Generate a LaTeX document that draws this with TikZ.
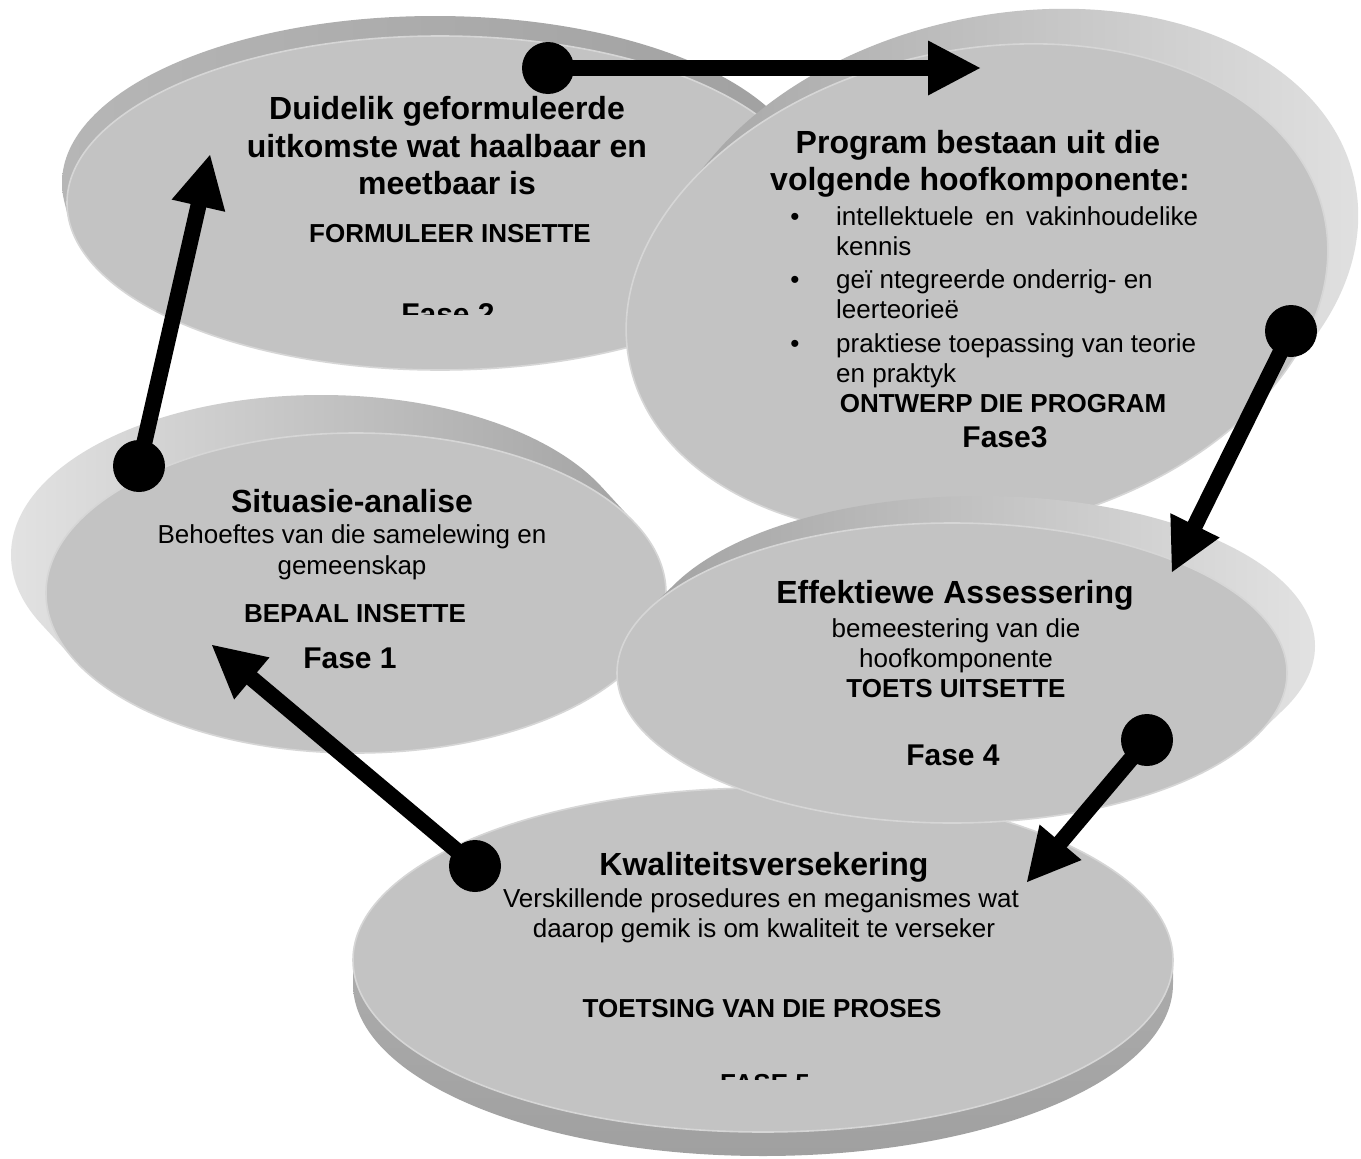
\documentclass[tikz,border=0pt]{standalone}
\usepackage{fontspec}
\setmainfont{Liberation Sans}
\usetikzlibrary{calc}
\definecolor{facegray}{RGB}{195,195,195}
\definecolor{faceedge}{RGB}{214,214,214}
\definecolor{rimdark}{RGB}{160,160,160}
\definecolor{rimmid}{RGB}{182,182,182}
\definecolor{rimlight}{RGB}{226,226,226}
\tikzset{
  face/.style={fill=facegray, draw=faceedge, line width=1.6pt},
  hd/.style={font=\fontsize{32}{37}\selectfont\bfseries, anchor=base, inner sep=0pt},
  sub/.style={font=\fontsize{26}{30}\selectfont, anchor=base, inner sep=0pt},
  subl/.style={font=\fontsize{26}{30}\selectfont, anchor=base west, inner sep=0pt},
  caps/.style={font=\fontsize{26}{30}\selectfont\bfseries, anchor=base, inner sep=0pt},
  fase/.style={font=\fontsize{30}{34}\selectfont\bfseries, anchor=base, inner sep=0pt},
  dot/.style={circle, fill=black, minimum size=52pt, inner sep=0pt},
  conn/.style={line width=16pt, draw=black, shorten >=50pt},
  head/.style={fill=black},
}
\begin{document}
\begin{tikzpicture}[x=1pt, y=-1pt]
\useasboundingbox (0,0) rectangle (1361,1159);
\fill[white] (0,0) rectangle (1361,1159);

% ---------- disc 2 (top left) ----------
\shade[left color=rimmid, right color=rimdark]
  \foreach \k in {0,...,20} {({440-5*\k/20},{203-20*\k/20}) ellipse [x radius=373, y radius=167]};
\path[face] (440,203) ellipse [x radius=373, y radius=167];

% ---------- disc 3 (top right) ----------
\begin{scope}
  \clip (0,0) rectangle (1361,345);
  \begin{scope}[shift={(977,290)}, rotate=12]
    \shade[left color=rimdark, right color=rimlight]
      \foreach \k in {0,...,20} {({37*\k/20},{-28*\k/20}) ellipse [x radius=355, y radius=240]};
  \end{scope}
\end{scope}
\begin{scope}[shift={(977,290)}, rotate=12]
  \path[face] (0,0) ellipse [x radius=355, y radius=240];
\end{scope}

% ---------- disc 1 (middle left) ----------
\shade[left color=rimlight, right color=rimdark]
  \foreach \k in {0,...,20} {({356-35*\k/20},{593-38*\k/20}) ellipse [x radius=310, y radius=160]};
\path[face] (356,593) ellipse [x radius=310, y radius=160];

% ---------- disc 5 (bottom) ----------
\shade[top color=rimmid, bottom color=rimdark]
  \foreach \k in {0,...,20} {(763,{960+24*\k/20}) ellipse [x radius=410, y radius=172]};
\path[face] (763,960) ellipse [x radius=410, y radius=172];

% ---------- disc 4 (middle right) ----------
\shade[left color=rimdark, right color=rimlight]
  \foreach \k in {0,...,20} {({952+28*\k/20},{673-27*\k/20}) ellipse [x radius=335, y radius=150]};
\path[face] (952,673) ellipse [x radius=335, y radius=150];

% ---------- texts ----------
\node[hd] (d2a) at (447,119) {Duidelik geformuleerde};
\node[hd] (d2b) at (447,157) {uitkomste wat haalbaar en};
\node[hd] (d2c) at (447,194) {meetbaar is};
\node[caps] (d2d) at (450,242) {FORMULEER INSETTE};
\begin{scope}
  \clip (0,0) rectangle (1361,314);
  \node[fase] (d2e) at (448,324) {Fase 2};
\end{scope}

\node[hd] (d3a) at (978,153) {Program bestaan uit die};
\node[hd] (d3b) at (980,190) {volgende hoofkomponente:};
\node[sub] (b1) at (795,225) {•};
\node[subl] (d3c) at (836,225) {\makebox[362pt][s]{intellektuele en vakinhoudelike}};
\node[subl] (d3d) at (836,255) {kennis};
\node[sub] (b2) at (795,288) {•};
\node[subl] (d3e) at (836,288) {geï ntegreerde onderrig- en};
\node[subl] (d3f) at (836,318) {leerteorieë};
\node[sub] (b3) at (795,352) {•};
\node[subl] (d3g) at (836,352) {praktiese toepassing van teorie};
\node[subl] (d3h) at (836,382) {en praktyk};
\node[caps] (d3i) at (1003,412) {ONTWERP DIE PROGRAM};
\node[fase] (d3j) at (1005,447) {Fase3};

\node[hd] (d1a) at (352,512) {Situasie-analise};
\node[sub] (d1b) at (352,543) {Behoeftes van die samelewing en};
\node[sub] (d1c) at (352,574) {gemeenskap};
\node[caps] (d1d) at (355,622) {BEPAAL INSETTE};
\node[fase] (d1e) at (350,668) {Fase 1};

\node[hd] (d4a) at (955,603) {Effektiewe Assessering};
\node[sub] (d4b) at (956,637) {bemeestering van die};
\node[sub] (d4c) at (956,667) {hoofkomponente};
\node[caps] (d4d) at (956,697) {TOETS UITSETTE};
\node[fase] (d4e) at (953,765) {Fase 4};

\node[hd] (d5a) at (764,875) {Kwaliteitsversekering};
\node[sub] (d5b) at (761,907) {Verskillende prosedures en meganismes wat};
\node[sub] (d5c) at (764,937) {daarop gemik is om kwaliteit te verseker};
\node[caps] (d5d) at (762,1017) {TOETSING VAN DIE PROSES};
\begin{scope}
  \clip (0,0) rectangle (1361,1079);
  \node[caps] (d5e) at (765,1092) {FASE 5};
\end{scope}

% ---------- connectors ----------
\node[dot] (pA) at (548,68) {};
\node[dot] (pB) at (1291,331) {};
\node[dot] (pC) at (1147,740) {};
\node[dot] (pD) at (475,866) {};
\node[dot] (pE) at (139,466) {};
\coordinate (tA) at (980,68);
\coordinate (tB) at (1172,572);
\coordinate (tC) at (1027,882);
\coordinate (tD) at (212,645);
\coordinate (tE) at (210,155);

\foreach \p/\t in {pA/tA, pB/tB, pC/tC, pD/tD, pE/tE} {
  \draw[conn] (\p.center) -- (\t);
  \fill[head] (\t) -- ($(\t)!52pt!(\p.center)!27.5pt!90:(\t)$)
                  -- ($(\t)!52pt!(\p.center)!27.5pt!-90:(\t)$) -- cycle;
}
\end{tikzpicture}
\end{document}
